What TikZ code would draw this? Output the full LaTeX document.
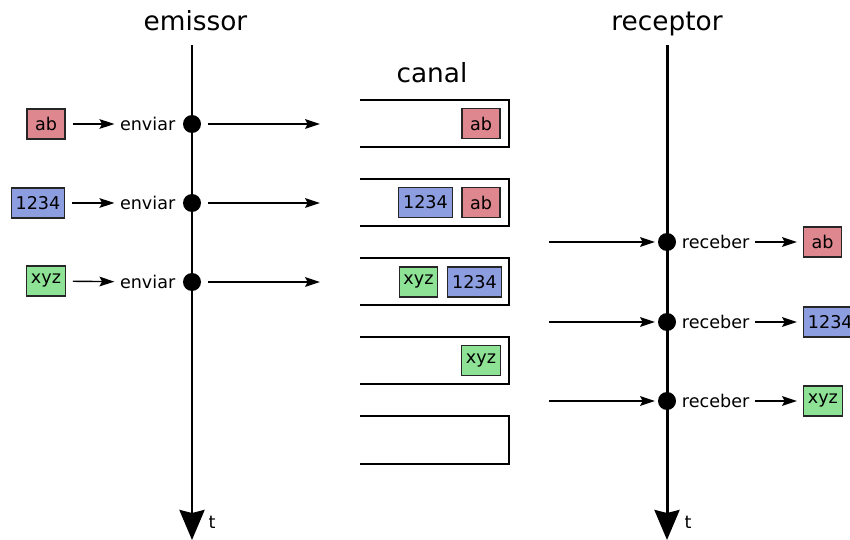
\documentclass[tikz,border=0pt]{standalone}
\usepackage{fontspec}
\setmainfont{DejaVu Sans}
\usetikzlibrary{positioning}
\usetikzlibrary{arrows.meta}
\definecolor{msgred}{RGB}{222,135,142}
\definecolor{msgblue}{RGB}{140,157,224}
\definecolor{msggreen}{RGB}{141,226,149}

\begin{document}
\begin{tikzpicture}[
  msg/.style={draw=black!85,line width=0.6pt,minimum width=0.76cm,minimum height=0.6cm,inner sep=2.5pt,font=\fontsize{10}{12}\selectfont},
  event/.style={circle,fill=black,minimum size=0.36cm,inner sep=0pt},
  lbl/.style={font=\fontsize{10}{12}\selectfont,inner sep=3pt},
  title/.style={font=\fontsize{15}{18}\selectfont,anchor=base},
  timeline/.style={line width=1.7pt,-{Stealth[length=0.6cm,width=0.5cm,inset=0.06cm]}},
  flow/.style={line width=0.8pt,-{Stealth[length=8.5pt,width=5.5pt,inset=1.5pt]}},
  slot/.style={line width=1.4pt}
]
\useasboundingbox (0,0) rectangle (17,-10.8);

% titles
\node[title] (emissor) at (3.91,-0.62) {emissor};
\node[title] (receptor) at (13.34,-0.62) {receptor};
\node[title] (canal) at (8.64,-1.66) {canal};

% time lines
\coordinate (etop) at (3.84,-0.9);
\coordinate (ebot) at (3.84,-10.8);
\coordinate (rtop) at (13.34,-0.9);
\coordinate (rbot) at (13.34,-10.8);
\draw[timeline] (etop) -- (ebot);
\draw[timeline] (rtop) -- (rbot);
\node[lbl] (et) at (4.24,-10.44) {t};
\node[lbl] (rt) at (13.76,-10.44) {t};

% emissor side
\node[event] (d1) at (3.84,-2.48) {};
\node[event] (d2) at (3.84,-4.06) {};
\node[event] (d3) at (3.84,-5.64) {};
\node[lbl,left=1pt of d1] (e1) {enviar};
\node[lbl,left=1pt of d2] (e2) {enviar};
\node[lbl,left=1pt of d3] (e3) {enviar};
\node[msg,fill=msgred] (m1) at (0.92,-2.48) {ab};
\node[msg,fill=msgblue] (m2) at (0.76,-4.06) {1234};
\node[msg,fill=msggreen] (m3) at (0.92,-5.62) {xyz};
\draw[flow,shorten <=4pt] (m1) -- (e1);
\draw[flow,shorten <=4pt] (m2) -- (e2);
\draw[flow,shorten <=4pt] (m3) -- (e3);
\coordinate (s1) at (6.4,-2.48);
\coordinate (s2) at (6.4,-4.06);
\coordinate (s3) at (6.4,-5.64);
\draw[flow,shorten <=4pt] (d1) -- (s1);
\draw[flow,shorten <=4pt] (d2) -- (s2);
\draw[flow,shorten <=4pt] (d3) -- (s3);

% canal
\draw[slot] (7.2,-2.0) -| (10.18,-2.94) -- (7.2,-2.94);
\draw[slot] (7.2,-3.58) -| (10.18,-4.52) -- (7.2,-4.52);
\draw[slot] (7.2,-5.16) -| (10.18,-6.10) -- (7.2,-6.10);
\draw[slot] (7.2,-6.74) -| (10.18,-7.68) -- (7.2,-7.68);
\draw[slot] (7.2,-8.32) -| (10.18,-9.28) -- (7.2,-9.28);
\node[msg,fill=msgred] (c1a) at (9.62,-2.47) {ab};
\node[msg,fill=msgblue] (c2a) at (8.51,-4.05) {1234};
\node[msg,fill=msgred] (c2b) at (9.62,-4.05) {ab};
\node[msg,fill=msggreen] (c3a) at (8.37,-5.64) {xyz};
\node[msg,fill=msgblue] (c3b) at (9.49,-5.64) {1234};
\node[msg,fill=msggreen] (c4a) at (9.62,-7.21) {xyz};

% receptor side
\node[event] (r1) at (13.34,-4.84) {};
\node[event] (r2) at (13.34,-6.44) {};
\node[event] (r3) at (13.34,-8.02) {};
\coordinate (i1) at (10.98,-4.84);
\coordinate (i2) at (10.98,-6.44);
\coordinate (i3) at (10.98,-8.02);
\draw[flow,shorten >=1.5pt] (i1) -- (r1);
\draw[flow,shorten >=1.5pt] (i2) -- (r2);
\draw[flow,shorten >=1.5pt] (i3) -- (r3);
\node[lbl,right=0pt of r1] (q1) {receber};
\node[lbl,right=0pt of r2] (q2) {receber};
\node[lbl,right=0pt of r3] (q3) {receber};
\node[msg,fill=msgred,anchor=west] (o1) at (16.06,-4.84) {ab};
\node[msg,fill=msgblue,anchor=west] (o2) at (16.06,-6.44) {1234};
\node[msg,fill=msggreen,anchor=west] (o3) at (16.06,-8.02) {xyz};
\draw[flow,shorten >=3.4pt] (q1) -- (o1);
\draw[flow,shorten >=3.4pt] (q2) -- (o2);
\draw[flow,shorten >=3.4pt] (q3) -- (o3);

\end{tikzpicture}
\end{document}
